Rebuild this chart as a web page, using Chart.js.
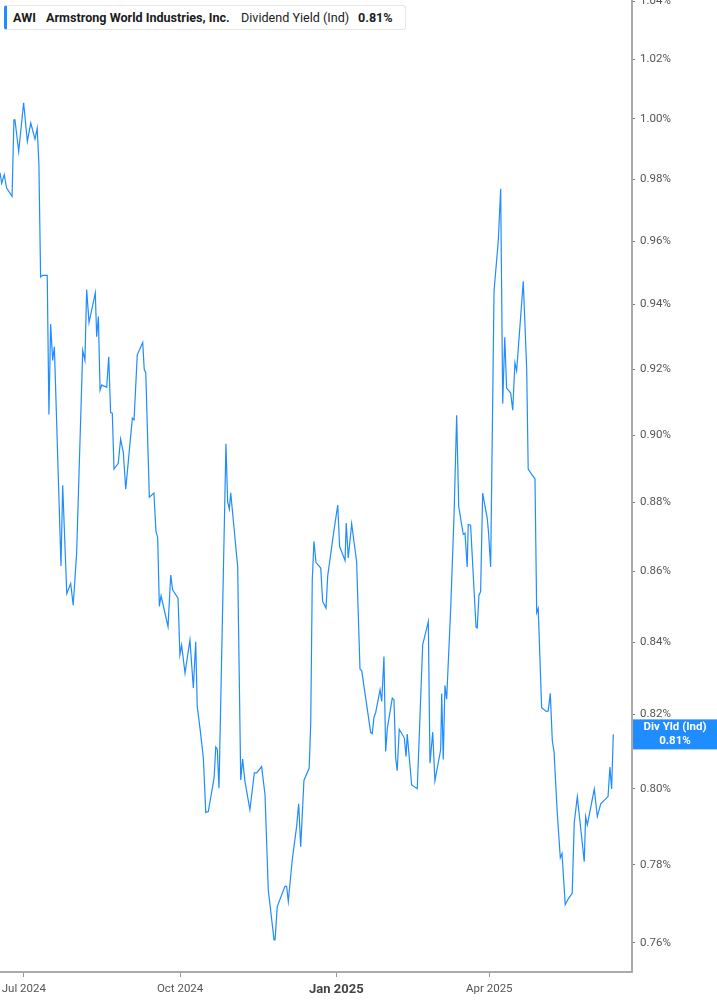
<!DOCTYPE html>
<html>
<head>
<meta charset="utf-8">
<script src="https://cdn.jsdelivr.net/npm/chart.js@4.4.1/dist/chart.umd.min.js"></script>
<style>
    html, body { margin: 0; padding: 0; background: #fff; }
    #wrap { position: relative; width: 717px; height: 1005px; }
    #legend {
        position: absolute; left: 4px; top: 5px; width: 402px; height: 25px;
        background: #fff; border: 1px solid #e6e6e6; border-left: 3px solid #1f8cff;
        border-radius: 3px; box-sizing: border-box;
        font-family: Roboto, "Liberation Sans", sans-serif; font-size: 12.6px; color: #1c1c1c;
    }
    #legend span { position: absolute; top: 4px; white-space: nowrap; }
    #legend .b { font-weight: bold; }
</style>
</head>
<body>
<div id="wrap">
    <canvas id="yieldChart"></canvas>
    <div id="legend">
        <span class="b" style="left:6px">AWI</span>
        <span class="b" style="left:39px">Armstrong World Industries, Inc.</span>
        <span style="left:234px">Dividend Yield (Ind)</span>
        <span class="b" style="left:351px">0.81%</span>
    </div>
</div>
<script>
// --- Daten (Tage seit 1. Jul 2024, Dividendenrendite in %) ---
const days = [
    -14.0, -13.0, -11.5, -10.1, -6.9, -5.8, -5.2, -3.0, -0.1, 2.1,
    4.1, 6.6, 7.9, 8.9, 9.9, 11.1, 13.8, 14.8, 15.8, 17.0,
    18.0, 21.9, 22.9, 25.3, 27.6, 29.1, 31.1, 34.7, 36.0, 37.0,
    38.4, 42.1, 42.9, 43.9, 44.9, 45.9, 46.8, 48.8, 50.0, 51.1,
    52.1, 53.1, 55.6, 57.0, 58.6, 60.0, 63.9, 64.9, 66.8, 70.0,
    70.9, 71.8, 73.9, 76.6, 77.8, 78.8, 79.8, 80.8, 84.9, 86.5,
    87.6, 90.8, 91.9, 92.9, 94.9, 97.8, 99.8, 101.2, 102.1, 103.7,
    105.7, 107.1, 108.6, 112.0, 113.0, 113.9, 114.9, 119.0, 120.0, 121.0,
    121.8, 125.9, 127.7, 128.8, 130.2, 133.1, 135.7, 137.1, 140.0, 142.0,
    143.9, 147.3, 147.9, 149.2, 153.7, 154.7, 155.7, 158.0, 160.6, 161.8,
    163.0, 164.9, 168.0, 168.9, 169.8, 170.8, 172.0, 174.8, 175.9, 177.9,
    178.9, 182.2, 184.8, 185.9, 189.1, 189.8, 191.0, 193.0, 195.9, 197.9,
    198.9, 204.2, 205.1, 206.1, 207.1, 209.7, 210.7, 212.0, 213.0, 214.0,
    216.9, 217.9, 218.9, 219.8, 221.0, 224.0, 225.0, 225.7, 228.3, 231.6,
    234.8, 238.1, 239.1, 240.7, 242.0, 245.4, 246.0, 246.9, 247.9, 248.9,
    251.3, 253.2, 254.8, 256.0, 258.7, 259.7, 261.0, 261.6, 263.0, 266.2,
    266.9, 267.9, 268.9, 270.1, 272.8, 273.6, 274.8, 276.8, 279.3, 280.7,
    281.9, 283.1, 284.2, 286.6, 287.8, 289.1, 290.1, 294.0, 296.0, 296.9,
    298.9, 300.9, 301.9, 302.8, 304.8, 307.8, 308.7, 309.9, 311.1, 312.1,
    314.0, 315.8, 316.8, 318.7, 320.7, 322.8, 324.0, 325.8, 329.9, 330.7,
    331.7, 335.8, 337.6, 339.6, 343.9, 345.0, 346.0, 347.0
];
const yieldPct = [
    0.9822, 0.9788, 0.9816, 0.9772, 0.9745, 0.9997, 0.9997, 0.9892, 1.0054, 0.9925,
    0.9986, 0.9933, 0.9969, 0.9849, 0.9487, 0.9492, 0.9492, 0.9062, 0.9339, 0.9227,
    0.9269, 0.8616, 0.8851, 0.8537, 0.8566, 0.8504, 0.8653, 0.9258, 0.9227, 0.9447,
    0.9344, 0.9437, 0.9300, 0.9363, 0.9136, 0.9152, 0.9149, 0.9145, 0.9238, 0.9068,
    0.9066, 0.8899, 0.8916, 0.8988, 0.8948, 0.8839, 0.9051, 0.9046, 0.9244, 0.9282,
    0.9199, 0.9189, 0.8816, 0.8828, 0.8716, 0.8699, 0.8501, 0.8531, 0.8444, 0.8590,
    0.8548, 0.8524, 0.8365, 0.8392, 0.8314, 0.8406, 0.8273, 0.8401, 0.8222, 0.8163,
    0.8082, 0.7937, 0.7939, 0.8028, 0.8112, 0.8106, 0.8001, 0.8974, 0.8803, 0.8781,
    0.8829, 0.8614, 0.8023, 0.8079, 0.8019, 0.7944, 0.8042, 0.8042, 0.8059, 0.7983,
    0.7735, 0.7607, 0.7607, 0.7692, 0.7744, 0.7744, 0.7705, 0.7812, 0.7900, 0.7960,
    0.7847, 0.8022, 0.8055, 0.8177, 0.8576, 0.8687, 0.8626, 0.8610, 0.8515, 0.8496,
    0.8588, 0.8706, 0.8793, 0.8672, 0.8632, 0.8740, 0.8639, 0.8738, 0.8629, 0.8325,
    0.8321, 0.8151, 0.8148, 0.8192, 0.8205, 0.8268, 0.8236, 0.8360, 0.8100, 0.8163,
    0.8245, 0.8240, 0.8082, 0.8048, 0.8160, 0.8136, 0.8086, 0.8147, 0.8010, 0.8000,
    0.8393, 0.8458, 0.8068, 0.8152, 0.8021, 0.8105, 0.8258, 0.8078, 0.8280, 0.8242,
    0.8497, 0.8754, 0.9060, 0.8788, 0.8707, 0.8711, 0.8613, 0.8736, 0.8734, 0.8442,
    0.8440, 0.8532, 0.8543, 0.8828, 0.8754, 0.8709, 0.8613, 0.9443, 0.9603, 0.9770,
    0.9095, 0.9298, 0.9142, 0.9127, 0.9075, 0.9220, 0.9195, 0.9473, 0.9203, 0.8899,
    0.8884, 0.8870, 0.8483, 0.8495, 0.8219, 0.8208, 0.8210, 0.8258, 0.8128, 0.8100,
    0.7936, 0.7818, 0.7829, 0.7697, 0.7713, 0.7726, 0.7909, 0.7979, 0.7808, 0.7926,
    0.7904, 0.7999, 0.7926, 0.7960, 0.7979, 0.8058, 0.7999, 0.8146
];

// Achsen-Beschriftungen
const xTickDays = [0, 92, 184, 274];
const xTickLabels = ['Jul 2024', 'Oct 2024', 'Jan 2025', 'Apr 2025'];
const yTickValues = [0.76, 0.78, 0.80, 0.82, 0.84, 0.86, 0.88, 0.90, 0.92, 0.94, 0.96, 0.98, 1.00, 1.02, 1.04];

const lineColor = '#1f8cff';
const fontFam = 'Roboto, "Liberation Sans", sans-serif';

// --- Label am rechten Rand (letzter Wert) ---
const lastValueTag = {
    id: 'lastValueTag',
    afterDraw(chart) {
        const ctx = chart.ctx;
        const yScale = chart.scales.y;
        const last = yieldPct[yieldPct.length - 1];
        const yPix = yScale.getPixelForValue(last);
        const left = chart.chartArea.right + 1;
        const w = chart.width - left;
        ctx.save();
        ctx.fillStyle = lineColor;
        ctx.fillRect(left, yPix - 15, w, 30);
        ctx.fillStyle = '#fff';
        ctx.textAlign = 'center';
        ctx.textBaseline = 'middle';
        ctx.font = 'bold 11.5px ' + fontFam;
        ctx.fillText('Div Yld (Ind)', left + w / 2, yPix - 7);
        ctx.fillText(last.toFixed(2) + '%', left + w / 2, yPix + 7);
        ctx.restore();
    }
};

new Chart(document.getElementById('yieldChart'), {
    type: 'line',
    data: {
        datasets: [{
            label: 'Dividend Yield (Ind)',
            data: days.map((d, i) => ({ x: d, y: yieldPct[i] })),
            borderColor: lineColor,
            borderWidth: 1.2,
            pointRadius: 0,
            tension: 0
        }]
    },
    options: {
        responsive: true,
        maintainAspectRatio: false,
        animation: false,
        layout: { padding: 0 },
        plugins: {
            legend: { display: false },
            tooltip: { enabled: false }
        },
        scales: {
            x: {
                type: 'linear',
                position: 'bottom',
                min: -14,
                max: 358,
                afterBuildTicks: s => { s.ticks = xTickDays.map(v => ({ value: v })); },
                afterFit: s => { s.height = 33; s.paddingLeft = 0; s.paddingRight = 0; },
                ticks: {
                    autoSkip: false,
                    maxRotation: 0,
                    padding: 5,
                    callback: v => xTickLabels[xTickDays.indexOf(v)],
                    color: c => (c.tick && c.tick.value === 184) ? '#444' : '#555',
                    font: c => (c.tick && c.tick.value === 184)
                        ? { family: fontFam, size: 13, weight: 'bold' }
                        : { family: fontFam, size: 11.5 }
                },
                grid: { drawOnChartArea: false, drawTicks: true, tickLength: 5, tickColor: '#999' },
                border: { display: true, color: '#aaa', width: 2 }
            },
            y: {
                type: 'logarithmic',
                position: 'right',
                min: 0.7526,
                max: 1.0404,
                bounds: 'data',
                afterBuildTicks: s => { s.ticks = yTickValues.map(v => ({ value: v })); },
                afterFit: s => { s.width = 85; s.paddingTop = 0; s.paddingBottom = 0; },
                ticks: {
                    padding: 5,
                    color: '#555',
                    font: { family: fontFam, size: 11.5 },
                    callback: v => Number(v).toFixed(2) + '%'
                },
                grid: { drawOnChartArea: false, drawTicks: true, tickLength: 3, tickColor: '#777' },
                border: { display: true, color: '#aaa', width: 2 }
            }
        }
    },
    plugins: [lastValueTag]
});
</script>
</body>
</html>
